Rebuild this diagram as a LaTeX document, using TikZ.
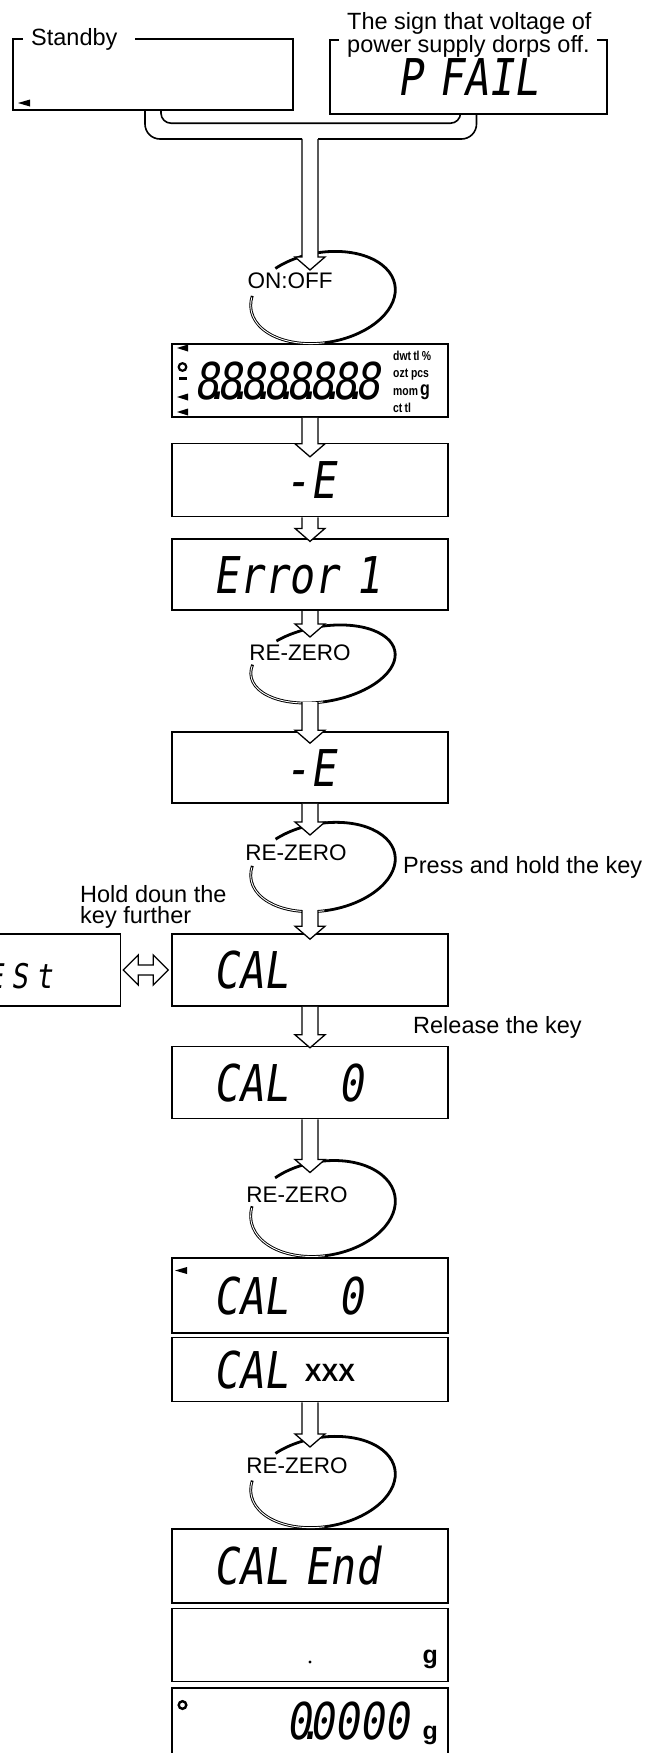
\documentclass[tikz,border=0pt]{standalone}
\usepackage{fontspec}
\setmainfont{Liberation Sans}
\newfontfamily\lcdfont[FakeSlant=0.15,FakeStretch=0.82]{DejaVu Sans Mono}
\newfontfamily\unitfont[FakeStretch=0.8]{Liberation Sans}
\newcommand\dpt{\kern-14.5pt.\kern-12.5pt}
\usetikzlibrary{
    positioning,
    calc
}

\begin{document}
\begin{tikzpicture}[
    x=1pt, y=-1pt,
    every node/.style={inner sep=0pt},
    note/.style={font=\fontsize{23.5}{21}\selectfont, align=left},
    keylbl/.style={font=\fontsize{22.5}{22}\selectfont, anchor=base},
    unit/.style={font=\unitfont\bfseries\fontsize{13}{13}\selectfont, anchor=base west},
    frame/.style={line width=1.6pt},
    lcdbox/.style={draw, line width=1.6pt, minimum width=276pt, minimum height=72pt,
      text width=194pt, inner xsep=41pt, text height=37pt, text depth=0pt,
      align=left, font=\lcdfont\fontsize{50.7}{52}\selectfont},
    keyloop/.style={line width=2.8pt, xshift=13pt, rotate=10},
    loopgap/.style={white, line width=0.9pt},
    blockarrow/.style={draw, line width=1.3pt, fill=white,
      to path={let \p1=(\tikztostart), \p2=(\tikztotarget) in
        (\x1-8pt,\y1) -- (\x1-8pt,\y2+13pt) -- (\x1-15pt,\y2+13pt) -- (\x1,\y2)
        -- (\x1+15pt,\y2+13pt) -- (\x1+8pt,\y2+13pt) -- (\x1+8pt,\y1)}},
    dblarrow/.style={draw, line width=1.3pt, fill=white,
      to path={let \p1=(\tikztostart), \p2=(\tikztotarget) in
        (\x1,\y1) -- (\x1+15pt,\y1+15pt) -- (\x1+15pt,\y1+5pt) -- (\x2-15pt,\y1+5pt)
        -- (\x2-15pt,\y1+15pt) -- (\x2,\y1) -- (\x2-15pt,\y1-15pt) -- (\x2-15pt,\y1-5pt)
        -- (\x1+15pt,\y1-5pt) -- (\x1+15pt,\y1-15pt) -- cycle}}
]
\useasboundingbox (0,0) rectangle (666,1753);
\node[minimum width=280pt, minimum height=71pt] (standby) at (153,74.5) {};
\node[lcdbox, draw=none, minimum width=275pt, text width=143pt, inner xsep=66pt] (pfail) at (468.5,77) {P~FAIL};
\coordinate (jn) at (310,139);
\coordinate (kOnOff) at (310,297.5);
\node[lcdbox, minimum height=73pt, text width=232pt, inner xsep=22pt] (display) at (310,380.5) {8\dpt 8\dpt 8\dpt 8\dpt 8\dpt 8\dpt 8\dpt 8};
\node[lcdbox, minimum height=73pt, align=center, below=25pt of display] (minusA) {-E};
\node[lcdbox, minimum height=71pt, below=21pt of minusA] (error) {Error~1};
\coordinate (kRezA) at (310,664);
\node[lcdbox, minimum height=71pt, align=center] (minusB) at (310,767.5) {-E};
\coordinate (kRezB) at (310,867);
\node[lcdbox] (cal) at (310,970) {CAL};
\node[lcdbox, left=50pt of cal, text width=140pt, inner xsep=68pt, align=right,
  font=\lcdfont\fontsize{34}{36}\selectfont] (tEst) {t\kern8pt E\kern8pt S\kern8pt t};
\node[lcdbox, below=39pt of cal] (calzero) {CAL~~~0};
\coordinate (kRezC) at (310,1208.5);
\node[lcdbox, minimum height=75pt] (calzeroB) at (310,1295.5) {CAL~~~0};
\node[lcdbox, minimum height=64pt, below=3pt of calzeroB] (calxxx) {CAL~\raisebox{7pt}{\normalfont\bfseries\fontsize{25}{25}\selectfont XXX}};
\coordinate (kRezD) at (310,1482);
\node[lcdbox, minimum height=74pt] (calend) at (310,1566) {CAL~End};
\node[lcdbox, minimum height=73pt, align=right, inner xsep=10pt, text width=256pt, below=4pt of calend] (gunit) {\normalfont\bfseries\fontsize{25}{25}\selectfont g};
\node[lcdbox, minimum height=66pt, align=right, inner xsep=10pt, text width=256pt, below=5pt of gunit] (zero) {0\dpt 0000\hspace{13pt}{\normalfont\bfseries\fontsize{25}{25}\selectfont g}};
\draw[frame] ([xshift=10pt]standby.north west) -- (standby.north west) -- (standby.south west) -- (standby.south east) -- (standby.north east) -- ([xshift=122pt]standby.north west);
\draw[frame] ([xshift=9pt]pfail.north west) -- (pfail.north west) -- (pfail.south west) -- (pfail.south east) -- (pfail.north east) -- ([xshift=-10pt]pfail.north east);
\draw[frame, rounded corners=10pt] ([xshift=8pt]standby.south) -- ++(0,13) -| ([xshift=-8pt]pfail.south);
\draw[frame, rounded corners=15pt] ([xshift=-8pt]standby.south) |- ([xshift=-8pt]jn);
\draw[frame, rounded corners=15pt] ([xshift=8pt]pfail.south) |- ([xshift=8pt]jn);
\draw[shift={(kOnOff)}, keyloop] (125:73pt and 45pt) arc[start angle=125, end angle=-198, x radius=73pt, y radius=45pt];
\draw[shift={(kOnOff)}, keyloop, loopgap] (-95:73pt and 45pt) arc[start angle=-95, end angle=-196, x radius=73pt, y radius=45pt];
\draw[shift={(kRezA)}, keyloop] (125:73pt and 37.5pt) arc[start angle=125, end angle=-198, x radius=73pt, y radius=37.5pt];
\draw[shift={(kRezA)}, keyloop, loopgap] (-95:73pt and 37.5pt) arc[start angle=-95, end angle=-196, x radius=73pt, y radius=37.5pt];
\draw[shift={(kRezB)}, keyloop] (125:73pt and 43.5pt) arc[start angle=125, end angle=-198, x radius=73pt, y radius=43.5pt];
\draw[shift={(kRezB)}, keyloop, loopgap] (-95:73pt and 43.5pt) arc[start angle=-95, end angle=-196, x radius=73pt, y radius=43.5pt];
\draw[shift={(kRezC)}, keyloop] (125:73pt and 47pt) arc[start angle=125, end angle=-198, x radius=73pt, y radius=47pt];
\draw[shift={(kRezC)}, keyloop, loopgap] (-95:73pt and 47pt) arc[start angle=-95, end angle=-196, x radius=73pt, y radius=47pt];
\draw[shift={(kRezD)}, keyloop] (125:73pt and 44.5pt) arc[start angle=125, end angle=-198, x radius=73pt, y radius=44.5pt];
\draw[shift={(kRezD)}, keyloop, loopgap] (-95:73pt and 44.5pt) arc[start angle=-95, end angle=-196, x radius=73pt, y radius=44.5pt];
\draw[blockarrow] (jn) to ([yshift=27.5pt]kOnOff);
\draw[blockarrow] (display.south) to ([yshift=-14pt]minusA.north);
\draw[blockarrow] (minusA.south) to ([yshift=-3pt]error.north);
\draw[blockarrow] (error.south) to ([yshift=27pt]kRezA);
\draw[blockarrow] ([yshift=-38pt]kRezA) to ([yshift=-12pt]minusB.north);
\draw[blockarrow] (minusB.south) to ([yshift=32pt]kRezB);
\draw[blockarrow] ([yshift=-43pt]kRezB) to ([yshift=-6pt]cal.north);
\draw[blockarrow] (cal.south) to ([yshift=-2pt]calzero.north);
\draw[blockarrow] (calzero.south) to ([yshift=36pt]kRezC);
\draw[blockarrow] (calxxx.south) to ([yshift=35pt]kRezD);
\draw[dblarrow] ([xshift=2pt]tEst.east) to ([xshift=-3pt]cal.west);
\node[note, anchor=base west] (standbyLbl) at (31,46) {Standby};
\node[note, anchor=north west] (pfailLbl) at (347,12) {The sign that voltage of\\power supply dorps off.};
\node[keylbl] (onoffLbl) at ($(kOnOff)+(-20,-9.5)$) {ON:OFF};
\node[keylbl] (rezALbl) at ($(kRezA)+(-10,-4)$) {RE-ZERO};
\node[keylbl] (rezBLbl) at ($(kRezB)+(-14,-7)$) {RE-ZERO};
\node[keylbl] (rezCLbl) at ($(kRezC)+(-13,-6)$) {RE-ZERO};
\node[keylbl] (rezDLbl) at ($(kRezD)+(-13,-9)$) {RE-ZERO};
\node[note, anchor=base west] (pressLbl) at (403,873) {Press and hold the key};
\node[note, anchor=north west] (holdLbl) at (80,885) {Hold doun the\\key further};
\node[note, anchor=base west] (releaseLbl) at (413,1033) {Release the key};
\node[unit] (unitA) at (393,360) {dwt\,tl\,\%};
\node[unit] (unitB) at (393,377) {ozt pcs};
\node[unit] (unitC) at (393,395) {mom\,{\fontsize{20}{20}\selectfont g}};
\node[unit] (unitD) at (393,412) {ct\,tl};
\fill (177,348) -- (188,344.5) -- (188,351.5) -- cycle;
\draw[line width=2.2pt] (182.5,367) circle[radius=3.8pt];
\fill (179,376.5) rectangle (187,380);
\fill (177,397) -- (188,393.5) -- (188,400.5) -- cycle;
\fill (177,412) -- (188,408.5) -- (188,415.5) -- cycle;
\fill (18,103) -- (30,99.5) -- (30,106.5) -- cycle;
\fill (175,1270.5) -- (187,1267) -- (187,1274) -- cycle;
\fill (310,1662) circle[radius=1.6pt];
\draw[line width=2.4pt] (182.5,1705) circle[radius=3.8pt];
\end{tikzpicture}
\end{document}
